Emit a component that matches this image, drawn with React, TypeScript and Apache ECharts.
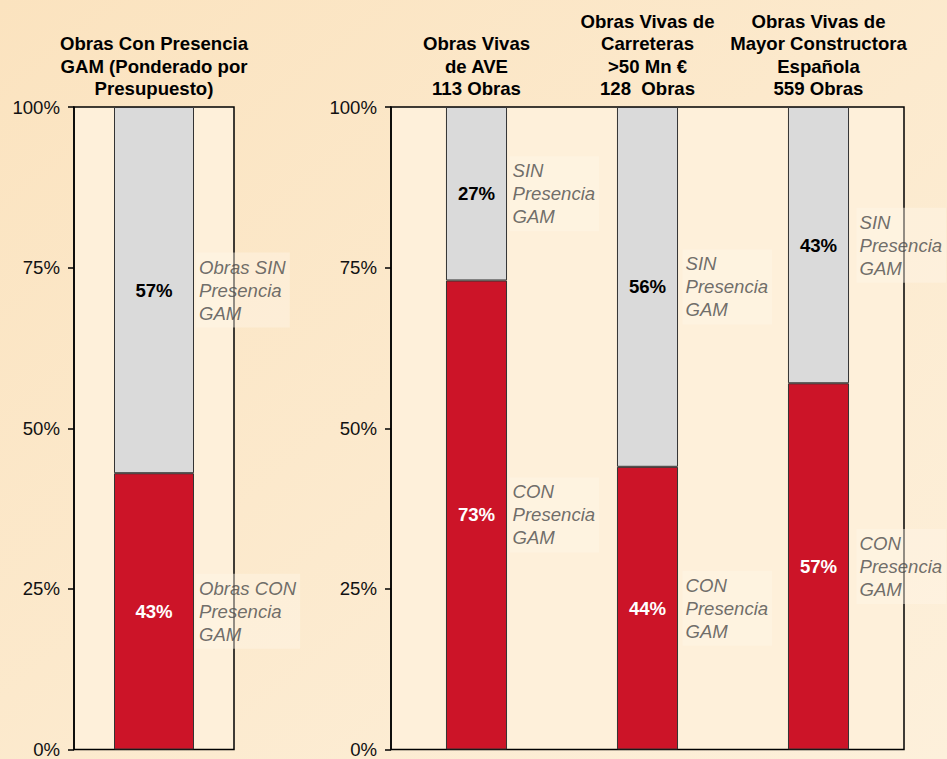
import React, { useEffect, useRef } from "react";
import * as echarts from "echarts";

const leftCategories = ["Obras Con Presencia\nGAM (Ponderado por\nPresupuesto)"];
const leftCon = [43];
const leftSin = [57];
const leftConText = ["Obras CON\nPresencia\nGAM"];
const leftSinText = ["Obras SIN\nPresencia\nGAM"];

const rightCategories = [
  "Obras Vivas\nde AVE\n113 Obras",
  "Obras Vivas de\nCarreteras\n>50 Mn €\n128  Obras",
  "Obras Vivas de\nMayor Constructora\nEspañola\n559 Obras",
];
const rightCon = [73, 44, 57];
const rightSin = [27, 56, 43];
const rightConText = ["CON\nPresencia\nGAM", "CON\nPresencia\nGAM", "CON\nPresencia\nGAM"];
const rightSinText = ["SIN\nPresencia\nGAM", "SIN\nPresencia\nGAM", "SIN\nPresencia\nGAM"];

const yTicks = [0, 25, 50, 75, 100];

const FONT = "'Liberation Sans', Arial, sans-serif";
const RED = "#CC1428";
const GRAY = "#DADADA";
const FS = 18.6;

export default function App() {
  const ref = useRef<HTMLDivElement>(null);

  useEffect(() => {
    document.body.style.margin = "0";
    if (!ref.current) return;
    const chart = echarts.init(ref.current, undefined, { renderer: "svg" });

    const yAxisBase = (gridIndex: number) => ({
      type: "value",
      gridIndex,
      min: yTicks[0],
      max: yTicks[yTicks.length - 1],
      interval: 25,
      axisLine: { show: true, lineStyle: { color: "#000", width: 1.5 } },
      axisTick: { show: true, inside: false, length: 6, lineStyle: { color: "#000", width: 1.5 } },
      splitLine: { show: false },
      axisLabel: {
        formatter: "{value}%",
        fontSize: FS,
        color: "#111",
        fontFamily: FONT,
        margin: 14,
      },
    });

    const xAxisBase = (gridIndex: number, data: string[]) => ({
      type: "category",
      gridIndex,
      position: "top",
      data,
      axisLine: { show: false },
      axisTick: { show: false },
      axisLabel: {
        interval: 0,
        fontSize: FS,
        fontWeight: "bold",
        color: "#000",
        fontFamily: FONT,
        lineHeight: 22.5,
        margin: 7,
      },
    });

    const barItem = (color: string) => ({
      color,
      borderColor: "#333",
      borderWidth: 1,
    });

    const pctLabel = (color: string) => ({
      show: true,
      position: "inside",
      formatter: "{c}%",
      fontSize: FS,
      fontWeight: "bold",
      color,
      fontFamily: FONT,
    });

    const sideLabelStyle = {
      show: true,
      position: "right",
      fontSize: FS,
      fontStyle: "italic",
      color: "#4a4a4a",
      fontFamily: FONT,
      lineHeight: 23,
      align: "left",
      backgroundColor: "rgba(255,246,232,0.55)",
      padding: [3, 4, 3, 3],
    };

    const sideSeries = (
      gridIndex: number,
      con: number[],
      sin: number[],
      conText: string[],
      sinText: string[],
      distances: number[]
    ) => {
      const data: any[] = [];
      con.forEach((c, i) => {
        data.push({
          value: [i, c / 2],
          label: { ...sideLabelStyle, distance: distances[i], formatter: conText[i] },
        });
        data.push({
          value: [i, c + sin[i] / 2],
          label: { ...sideLabelStyle, distance: distances[i], formatter: sinText[i] },
        });
      });
      return {
        type: "scatter",
        xAxisIndex: gridIndex,
        yAxisIndex: gridIndex,
        symbolSize: 0,
        silent: true,
        z: 5,
        data,
      };
    };

    const option = {
      animation: false,
      backgroundColor: {
        type: "linear",
        x: 0,
        y: 0,
        x2: 1,
        y2: 1,
        colorStops: [
          { offset: 0, color: "#FBE3BF" },
          { offset: 1, color: "#FDF0DB" },
        ],
      },
      grid: [
        {
          left: 74,
          right: 947 - 234,
          top: 107,
          bottom: 6,
          show: true,
          backgroundColor: "#FEF0DA",
          borderColor: "#000",
          borderWidth: 1.5,
        },
        {
          left: 391,
          right: 947 - 904,
          top: 107,
          bottom: 6,
          show: true,
          backgroundColor: "#FEF0DA",
          borderColor: "#000",
          borderWidth: 1.5,
        },
      ],
      xAxis: [xAxisBase(0, leftCategories), xAxisBase(1, rightCategories)],
      yAxis: [yAxisBase(0), yAxisBase(1)],
      series: [
        {
          type: "bar",
          name: "CON",
          xAxisIndex: 0,
          yAxisIndex: 0,
          stack: "l",
          barWidth: "50%",
          data: leftCon,
          itemStyle: barItem(RED),
          label: pctLabel("#fff"),
        },
        {
          type: "bar",
          name: "SIN",
          xAxisIndex: 0,
          yAxisIndex: 0,
          stack: "l",
          barWidth: "50%",
          data: leftSin,
          itemStyle: barItem(GRAY),
          label: pctLabel("#000"),
        },
        {
          type: "bar",
          name: "CON",
          xAxisIndex: 1,
          yAxisIndex: 1,
          stack: "r",
          barWidth: "35.7%",
          data: rightCon,
          itemStyle: barItem(RED),
          label: pctLabel("#fff"),
        },
        {
          type: "bar",
          name: "SIN",
          xAxisIndex: 1,
          yAxisIndex: 1,
          stack: "r",
          barWidth: "35.7%",
          data: rightSin,
          itemStyle: barItem(GRAY),
          label: pctLabel("#000"),
        },
        sideSeries(0, leftCon, leftSin, leftConText, leftSinText, [42]),
        sideSeries(1, rightCon, rightSin, rightConText, rightSinText, [33, 35, 38]),
      ],
    };

    chart.setOption(option as any);
    return () => chart.dispose();
  }, []);

  return <div ref={ref} style={{ width: 947, height: 759 }} />;
}
